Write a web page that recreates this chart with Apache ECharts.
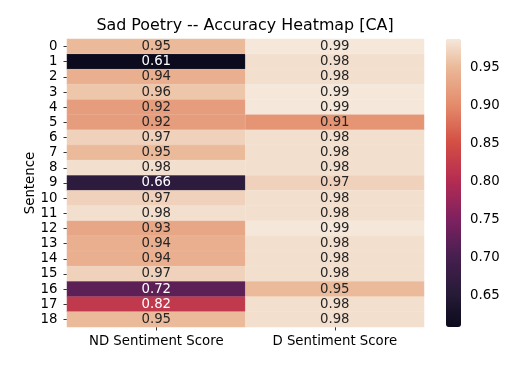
<!DOCTYPE html>
<html>
<head>
<meta charset="utf-8">
<script src="https://cdn.jsdelivr.net/npm/echarts@6/dist/echarts.min.js"></script>
<style>html,body{margin:0;padding:0;background:#fff;}#c{width:526px;height:368px;}</style>
</head>
<body>
<div id="c"></div>
<script>
const rows = ['0','1','2','3','4','5','6','7','8','9','10','11','12','13','14','15','16','17','18'];
const columns = ['ND Sentiment Score', 'D Sentiment Score'];
const ndScores = [0.95,0.61,0.94,0.96,0.92,0.92,0.97,0.95,0.98,0.66,0.97,0.98,0.93,0.94,0.94,0.97,0.72,0.82,0.95];
const dScores  = [0.99,0.98,0.98,0.99,0.99,0.91,0.98,0.98,0.98,0.97,0.98,0.98,0.99,0.98,0.98,0.98,0.95,0.98,0.98];
const colorbarTicks = [0.65,0.70,0.75,0.80,0.85,0.90,0.95];
const colorMin = 0.608, colorMax = 0.987;
// colormap anchors (value -> colour), as seen on the reference colour bar
const cmapValues = [0.608, 0.65, 0.70, 0.75, 0.80, 0.85, 0.90, 0.95, 0.987];
const cmapColors = ['#0b0a1c','#261a37','#461f4f','#7e2160','#b42c52','#d34e44','#e38b6b','#ebb999','#f5e7da'];

function hex2rgb(h){ return [1,3,5].map(i => parseInt(h.substr(i,2),16)); }
function cmapAt(v){
  for (let i = 0; i < cmapValues.length - 1; i++) {
    if (v <= cmapValues[i+1] || i === cmapValues.length - 2) {
      const t = Math.max(0, Math.min(1, (v - cmapValues[i]) / (cmapValues[i+1] - cmapValues[i])));
      const a = hex2rgb(cmapColors[i]), b = hex2rgb(cmapColors[i+1]);
      return 'rgb(' + a.map((c, k) => Math.round(c + (b[k] - c) * t)).join(',') + ')';
    }
  }
}
const gradient = [];
const NSTOP = 64;
for (let i = 0; i <= NSTOP; i++) gradient.push(cmapAt(colorMin + (colorMax - colorMin) * i / NSTOP));

const FONT = 'DejaVu Sans';
const data = [];
[ndScores, dScores].forEach((col, ci) => {
  col.forEach((v, ri) => {
    data.push({ value: [ci, ri, v], label: { color: v < 0.87 ? '#ffffff' : '#262626' } });
  });
});

const chart = echarts.init(document.getElementById('c'));
chart.setOption({
  animation: false,
  title: {
    text: 'Sad Poetry -- Accuracy Heatmap [CA]',
    left: 245, top: 18, padding: 0, textAlign: 'center',
    textStyle: { fontFamily: FONT, fontSize: 15.9, fontWeight: 'normal', color: '#000' }
  },
  grid: [
    { left: 67, top: 39, width: 357, height: 288 },
    { left: 446, top: 39, width: 15, height: 288 }
  ],
  xAxis: [
    {
      type: 'category', data: columns, gridIndex: 0, position: 'bottom',
      axisLine: { show: false },
      axisTick: { show: true, alignWithLabel: true, length: 3.5, lineStyle: { color: '#000', width: 0.8 } },
      axisLabel: { fontFamily: FONT, fontSize: 13.3, color: '#000', margin: 8 },
      splitLine: { show: false }
    },
    { type: 'value', gridIndex: 1, show: false, min: 0, max: 1 }
  ],
  yAxis: [
    {
      type: 'category', data: rows, gridIndex: 0, inverse: true,
      name: 'Sentence', nameLocation: 'middle', nameGap: 30, nameRotate: 90, nameMoveOverlap: false,
      nameTextStyle: { fontFamily: FONT, fontSize: 13.3, color: '#000' },
      axisLine: { show: false },
      axisTick: { show: true, alignWithLabel: true, interval: 0, length: 3.5, lineStyle: { color: '#000', width: 0.8 } },
      axisLabel: { fontFamily: FONT, fontSize: 13.3, color: '#000', margin: 9.5, interval: 0 },
      splitLine: { show: false }
    },
    {
      type: 'value', gridIndex: 1, position: 'right', min: colorMin, max: colorMax,
      axisLine: { show: false },
      splitLine: { show: false },
      axisTick: { show: true, length: 3.5, customValues: colorbarTicks, lineStyle: { color: '#000', width: 0.8 } },
      axisLabel: { show: true, customValues: colorbarTicks, fontFamily: FONT, fontSize: 13.3, color: '#000', margin: 9,
        formatter: v => v.toFixed(2) }
    }
  ],
  visualMap: {
    type: 'continuous', min: colorMin, max: colorMax, seriesIndex: 0,
    calculable: false, hoverLink: false, realtime: false,
    left: 446, top: 39, itemWidth: 15, itemHeight: 288, padding: 0,
    inRange: { color: gradient },
    textStyle: { color: 'transparent' }
  },
  series: [{
    type: 'heatmap', xAxisIndex: 0, yAxisIndex: 0,
    data: data,
    itemStyle: { borderColor: 'rgba(255,255,255,0.18)', borderWidth: 0.6 },
    label: { show: true, fontFamily: FONT, fontSize: 13.3, formatter: p => p.value[2].toFixed(2) },
    emphasis: { disabled: true }
  }]
});
</script>
</body>
</html>
